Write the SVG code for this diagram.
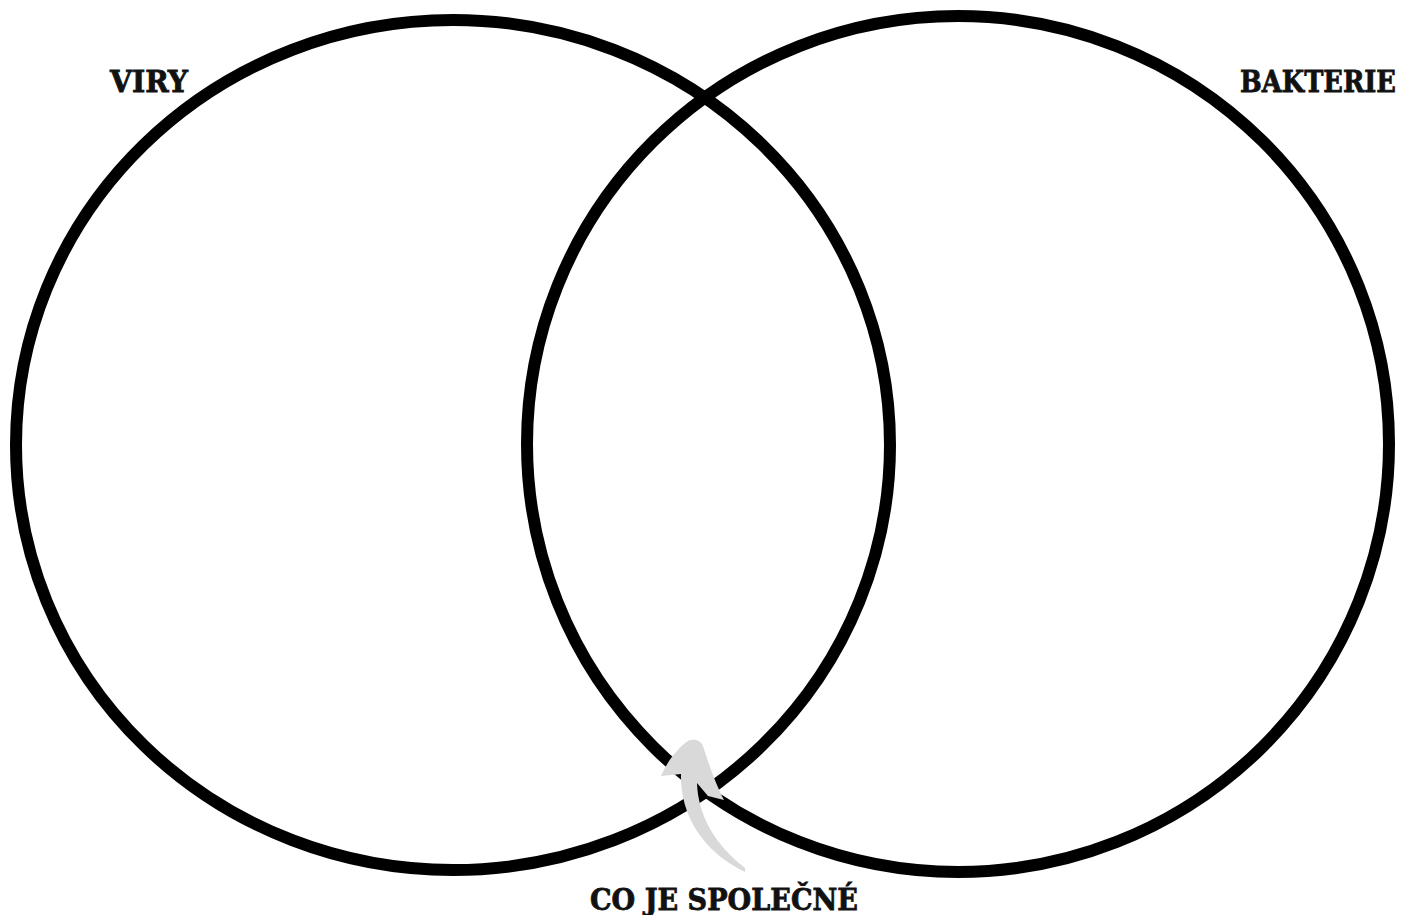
<svg xmlns="http://www.w3.org/2000/svg" width="1404" height="915" viewBox="0 0 1404 915">
<style>
.c{fill:none;stroke:#000;stroke-width:12}
.t{font-family:"DejaVu Serif","Liberation Serif",serif;font-weight:bold;font-size:30px;fill:#111;stroke:#111;stroke-width:0.8}
</style>
<rect width="1404" height="915" fill="#fff"/>
<g id="viry">
<ellipse class="c" cx="453" cy="445" rx="437" ry="425"/>
<text class="t" x="110" y="92" textLength="78" lengthAdjust="spacingAndGlyphs">VIRY</text>
</g>
<g id="bakterie">
<ellipse class="c" cx="958" cy="444" rx="431" ry="428"/>
<text class="t" x="1240" y="92" textLength="156" lengthAdjust="spacingAndGlyphs">BAKTERIE</text>
</g>
<g id="connectors">
<path fill="#d9d9d9" d="M 745 872 C 700 850 680 812 681 774 L 661 776 C 668 760 678 748 688 741 C 695 738 701 741 703 746 C 708 762 716 785 724 800 L 708 796 L 697 783 C 698 815 715 845 745 868 Z"/>
</g>
<g id="common">
<text class="t" x="590" y="910" textLength="268" lengthAdjust="spacingAndGlyphs">CO JE SPOLEČNÉ</text>
</g>
</svg>
